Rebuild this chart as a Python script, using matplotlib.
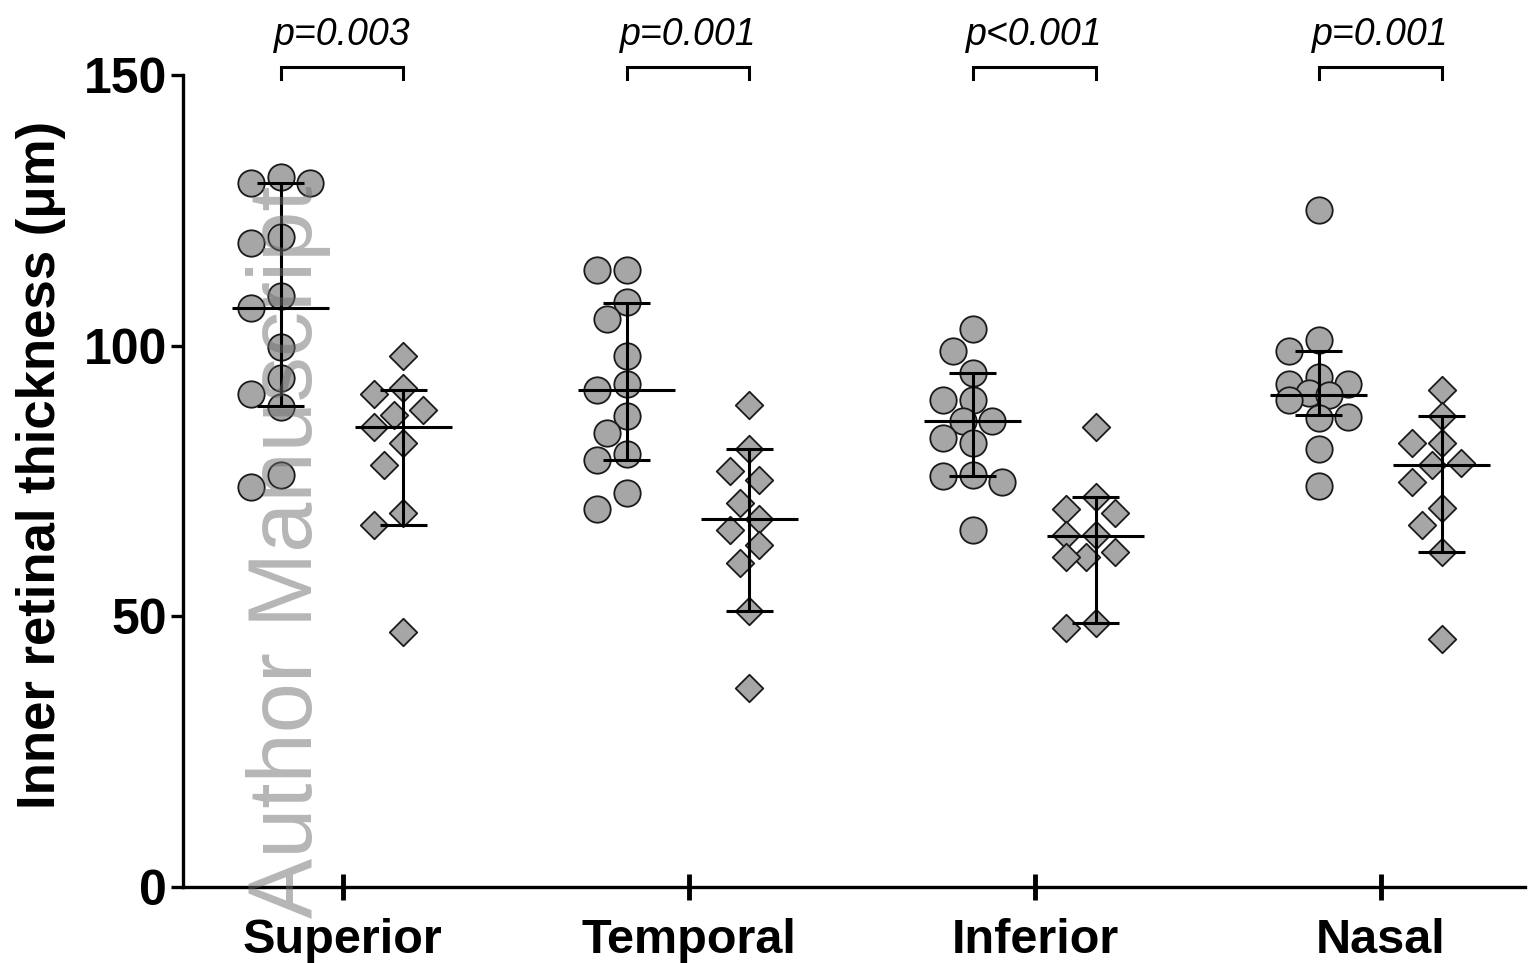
import numpy as np
import matplotlib.pyplot as plt

plt.rcParams['font.family'] = ['Liberation Sans', 'DejaVu Sans']

regions = ['Superior', 'Temporal', 'Inferior', 'Nasal']
p_labels = ['p=0.003', 'p=0.001', 'p<0.001', 'p=0.001']

# first group (grey circles)
circle_vals = [
    [130.0, 130.0, 131.1, 118.9, 120.0, 109.1, 106.9, 99.8, 94.0, 91.1, 88.7, 73.8, 76.1],
    [114.0, 114.0, 108.1, 104.9, 98.1, 92.9, 91.9, 87.0, 83.9, 80.0, 78.9, 72.8, 69.9],
    [103.0, 99.0, 95.0, 90.0, 90.0, 86.0, 86.0, 82.0, 82.9, 76.0, 76.1, 74.9, 66.0],
    [125.1, 101.1, 99.0, 94.2, 93.0, 93.0, 91.2, 90.9, 90.0, 86.9, 86.6, 81.0, 74.0],
]
# second group (grey diamonds)
diamond_vals = [
    [98.1, 92.1, 91.0, 88.1, 87.1, 84.9, 82.0, 78.0, 69.0, 66.9, 47.1],
    [89.0, 81.0, 76.9, 75.1, 71.0, 67.9, 66.0, 63.2, 59.9, 51.0, 36.7],
    [84.9, 72.0, 69.9, 69.0, 65.0, 65.0, 60.9, 61.8, 60.9, 47.9, 48.8],
    [91.9, 87.0, 82.1, 82.1, 78.0, 78.3, 74.9, 70.0, 66.9, 61.9, 45.9],
]

# median and interquartile range lines
circle_median = [107.0, 91.9, 86.0, 90.9]
circle_low = [88.8, 78.9, 76.0, 87.1]
circle_high = [130.0, 107.9, 95.0, 99.0]
diamond_median = [85.0, 67.9, 64.9, 78.0]
diamond_low = [66.9, 51.0, 48.8, 61.9]
diamond_high = [91.9, 81.0, 72.0, 87.0]


def swarm(vals, d, ppu_x, ppu_y, step=0.35, min_frac=0.9, max_k=3):
    # simple beeswarm with a capped width; overlaps when the column is full
    ys = np.asarray(vals) * ppu_y
    order = np.argsort(-ys)
    cands = [0.0]
    for k in range(1, max_k + 1):
        cands += [-k * step * d, k * step * d]
    placed = []
    offs = np.zeros(len(ys))
    for i in order:
        best, best_gap = 0.0, -1
        for c in cands:
            gap = min([np.hypot(c - px, ys[i] - py) for px, py in placed] or [1e9])
            if gap >= min_frac * d:
                best = c
                break
            if gap > best_gap + 1:
                best, best_gap = c, gap
        offs[i] = best
        placed.append((best, ys[i]))
    return offs / ppu_x


W, H = 1540, 963
fig = plt.figure(figsize=(W / 100, H / 100), dpi=100)
x0px, x1px, y0px, y1px = 183, 1525, 887, 75
ax = fig.add_axes([x0px / W, 1 - y0px / H, (x1px - x0px) / W, (y0px - y1px) / H])
ax.set_xlim(-0.462, 3.416)
ax.set_ylim(0, 150)

ppu_x = (x1px - x0px) / (3.416 + 0.462)
ppu_y = (y0px - y1px) / 150
d = 28  # marker diameter in px

face = '#a6a6a6'
off_c, off_d = -0.18, 0.175
lw = 2.2

for i in range(len(regions)):
    xc = i + off_c
    xd = i + off_d
    jc = swarm(circle_vals[i], d, ppu_x, ppu_y)
    jd = swarm(diamond_vals[i], d, ppu_x, ppu_y)
    ax.scatter(xc + jc, circle_vals[i], s=19 ** 2, marker='o', facecolor=face,
               edgecolor='#1a1a1a', linewidth=1.3, zorder=2)
    ax.scatter(xd + jd, diamond_vals[i], s=14 ** 2, marker='D', facecolor=face,
               edgecolor='#1a1a1a', linewidth=1.3, zorder=2)

    for x, med, lo, hi in ((xc, circle_median[i], circle_low[i], circle_high[i]),
                           (xd, diamond_median[i], diamond_low[i], diamond_high[i])):
        ax.vlines(x, lo, hi, color='black', lw=lw, zorder=3)
        ax.hlines([lo, hi], x - 0.068, x + 0.068, color='black', lw=lw, zorder=3)
        ax.hlines(med, x - 0.14, x + 0.14, color='black', lw=lw, zorder=3)

    # significance bracket
    ax.plot([xc, xc, xd, xd], [149.2, 151.5, 151.5, 149.2], color='black',
            lw=lw, clip_on=False, solid_joinstyle='miter')
    ax.text((xc + xd) / 2, 155.5, p_labels[i], ha='center', va='baseline',
            fontsize=27, fontstyle='italic', clip_on=False)

ax.spines['top'].set_visible(False)
ax.spines['right'].set_visible(False)
for s in ('left', 'bottom'):
    ax.spines[s].set_linewidth(2.4)

ax.set_yticks([0, 50, 100, 150])
ax.set_xticks(range(len(regions)))
ax.set_xticklabels(regions, fontweight='bold')
for lab in ax.get_yticklabels():
    lab.set_fontweight('bold')
ax.tick_params(axis='y', direction='out', length=8.6, width=2.4, labelsize=36, pad=3)
ax.tick_params(axis='x', direction='inout', length=19, width=3.5, labelsize=35, pad=13)

ax.set_ylabel('Inner retinal thickness (μm)', fontsize=38, fontweight='bold')
ax.yaxis.set_label_coords(-0.087, 0.52)

# watermark
fig.text(312 / W, 1 - 918 / H, 'Author Manuscript', rotation=90, rotation_mode='anchor',
         ha='left', va='baseline', fontsize=65, color='#6e6e6e', alpha=0.5, zorder=10)

fig.savefig('out.png', dpi=100)
